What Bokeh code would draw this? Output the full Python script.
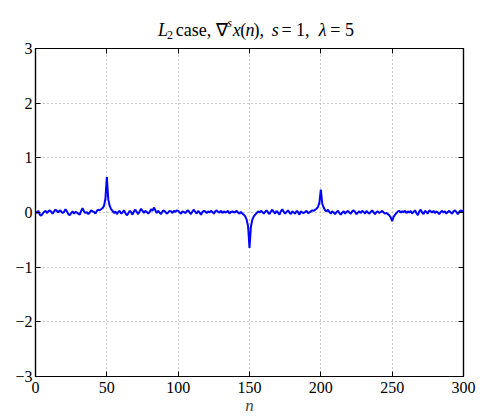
from bokeh.plotting import figure
from bokeh.models import LinearAxis, Label, FixedTicker, Range1d
from bokeh.layouts import column
from bokeh.embed import file_html
from bokeh.resources import INLINE

# ---- data ----
n = list(range(0, 301))
y_vals = [
    0.02, -0.01, 0.03, -0.04, -0.06, -0.02, 0.01, 0.03, -0.01, 0.02,
    0.04, 0.01, -0.02, 0.02, 0.05, 0.03, 0.00, 0.04, 0.02, -0.01,
    0.01, 0.06, 0.02, -0.03, -0.05, -0.01, 0.02, -0.02, 0.01, 0.00,
    -0.02, -0.04, 0.03, 0.08, 0.02, -0.01, 0.01, -0.03, 0.00, 0.04,
    0.02, 0.01, -0.02, 0.03, 0.05, 0.04, 0.06, 0.08, 0.12, 0.25,
    0.65, 0.24, 0.12, 0.06, 0.03, -0.01, 0.02, -0.03, 0.01, 0.03,
    -0.02, 0.00, 0.04, -0.01, -0.05, -0.02, 0.03, 0.01, -0.04, 0.02,
    0.05, 0.01, -0.03, 0.02, 0.07, 0.03, -0.01, 0.03, 0.01, -0.02,
    0.01, 0.06, 0.03, 0.09, 0.04, -0.01, 0.03, 0.00, -0.03, 0.02,
    0.04, 0.01, -0.02, 0.00, 0.03, 0.02, -0.01, 0.03, 0.01, 0.04,
    0.03, 0.00, -0.02, 0.02, 0.01, -0.01, 0.02, 0.04, 0.00, -0.03,
    0.02, 0.05, 0.01, -0.02, 0.03, 0.00, -0.04, 0.01, 0.03, 0.02,
    -0.01, 0.02, 0.00, 0.03, 0.01, -0.02, 0.02, 0.04, 0.01, 0.00,
    0.03, -0.01, 0.02, 0.00, 0.01, 0.03, -0.02, 0.01, 0.02, 0.00,
    0.01, 0.03, 0.00, -0.02, 0.01, -0.02, -0.04, -0.07, -0.13, -0.25,
    -0.65, -0.26, -0.13, -0.07, -0.04, -0.01, 0.02, 0.00, 0.03, 0.01,
    -0.02, 0.01, 0.04, 0.00, -0.03, 0.02, 0.05, 0.01, -0.02, 0.03,
    0.00, -0.04, 0.02, 0.06, 0.01, -0.02, 0.01, 0.04, 0.00, -0.03,
    0.02, 0.00, -0.02, 0.03, 0.01, -0.04, 0.02, 0.00, -0.01, 0.01,
    0.03, -0.01, 0.00, 0.02, 0.04, 0.03, 0.05, 0.07, 0.10, 0.18,
    0.42, 0.16, 0.09, 0.04, 0.02, 0.05, 0.01, -0.02, 0.02, 0.00,
    -0.03, 0.01, 0.03, -0.01, -0.04, 0.00, 0.02, -0.02, 0.01, 0.03,
    0.00, -0.02, 0.02, 0.04, 0.01, -0.03, 0.00, 0.02, -0.01, 0.03,
    0.01, -0.02, 0.03, 0.00, -0.02, 0.01, 0.04, 0.00, -0.03, 0.01,
    0.02, -0.01, 0.01, 0.03, 0.00, -0.02, -0.01, -0.03, -0.05, -0.09,
    -0.16, -0.08, -0.04, -0.01, 0.02, 0.03, 0.00, 0.02, 0.01, 0.03,
    -0.01, 0.02, 0.00, 0.03, -0.02, 0.01, 0.04, -0.01, -0.05, 0.02,
    0.05, 0.00, -0.03, 0.03, 0.01, -0.02, 0.04, 0.02, 0.00, 0.03,
    -0.01, 0.02, 0.00, -0.03, 0.01, 0.03, 0.00, 0.02, -0.02, 0.01,
    0.03, 0.00, -0.02, 0.02, 0.04, 0.01, -0.03, 0.01, 0.04, 0.02,
    0.03,
]
x_ticks = [0, 50, 100, 150, 200, 250, 300]
y_ticks = [-3, -2, -1, 0, 1, 2, 3]
y_tick_labels = {-3: "\u22123", -2: "\u22122", -1: "\u22121", 0: "0", 1: "1", 2: "2", 3: "3"}
x_label = "n"

FONT = "Liberation Serif"
W, H = 482, 417
TH = 40                      # height of the title strip
L, R = 35, 463               # frame left/right
T, B = 48 - TH, 376 - TH     # frame top/bottom inside the main figure
MH = H - TH

# ---------------- title strip ----------------
t = figure(width=W, height=TH, output_backend="svg", toolbar_location=None,
           x_range=Range1d(0, W), y_range=Range1d(0, TH), min_border=0,
           x_axis_location=None, y_axis_location=None)
t.title.visible = False
t.outline_line_color = None
t.grid.visible = False
t.border_fill_color = "white"
t.background_fill_color = "white"

base = TH - 29
pieces = [
    ("L", 138, base, "18px", "italic"),
    ("2", 148, base - 5, "12px", "normal"),
    ("case,", 158, base, "18px", "normal"),
    ("\u2207", 203, base, "18px", "normal"),
    ("s", 216, base + 7, "12px", "italic"),
    ("x", 222, base, "18px", "italic"),
    ("(", 230.5, base, "18px", "normal"),
    ("n", 236.5, base, "18px", "italic"),
    ("),", 245.5, base, "18px", "normal"),
    ("s", 266, base, "18px", "italic"),
    ("= 1,", 277, base, "18px", "normal"),
    ("\u03bb", 319, base, "18px", "italic"),
    ("= 5", 332, base, "18px", "normal"),
]
for txt, px, py, fs, st in pieces:
    t.add_layout(Label(x=px, y=py, text=txt, text_font=FONT, text_font_size=fs,
                       text_font_style=st, text_baseline="alphabetic",
                       text_align="left", text_color="black"))

# ---------------- main plot ----------------
p = figure(width=W, height=MH, output_backend="svg", toolbar_location=None,
           x_range=Range1d(0, 300), y_range=Range1d(-3, 3),
           min_border_left=L, min_border_right=W - R, min_border_top=T,
           min_border_bottom=MH - B, x_axis_location=None, y_axis_location=None)
p.title.visible = False
p.outline_line_color = "black"
p.outline_line_width = 1.2
p.background_fill_color = "white"
p.border_fill_color = "white"

def style_axis(ax, ticks, show_labels):
    ax.ticker = FixedTicker(ticks=ticks)
    ax.major_tick_in = 5
    ax.major_tick_out = 0
    ax.minor_tick_line_color = None
    ax.axis_line_color = "black"
    ax.axis_line_width = 1.2
    ax.major_tick_line_color = "black"
    ax.major_label_text_font = FONT
    if show_labels:
        ax.major_label_text_color = "black"
        ax.major_label_text_font_size = "16px"
    else:
        ax.major_label_text_color = None
        ax.major_label_text_font_size = "1px"
        ax.major_label_standoff = 0

xb = LinearAxis(); style_axis(xb, x_ticks, True)
xb.major_label_standoff = 5
xb.axis_label = x_label
xb.axis_label_text_font = FONT
xb.axis_label_text_font_style = "italic"
xb.axis_label_text_font_size = "17px"
xb.axis_label_standoff = 0
xt = LinearAxis(); style_axis(xt, x_ticks, False)
yl = LinearAxis(); style_axis(yl, y_ticks, True)
yl.major_label_overrides = y_tick_labels
yl.major_label_standoff = 3
yr = LinearAxis(); style_axis(yr, y_ticks, False)
p.add_layout(xb, "below")
p.add_layout(xt, "above")
p.add_layout(yl, "left")
p.add_layout(yr, "right")

for g in (p.xgrid, p.ygrid):
    g.grid_line_color = "#999999"
    g.grid_line_dash = "1 3"
    g.grid_line_width = 1
p.xgrid.ticker = FixedTicker(ticks=x_ticks)
p.ygrid.ticker = FixedTicker(ticks=y_ticks)
p.grid.level = "underlay"

p.line(n, y_vals, line_color="#0000ff", line_width=2)

layout = column(t, p, spacing=0)
open("out.html", "w").write(file_html(layout, INLINE))
